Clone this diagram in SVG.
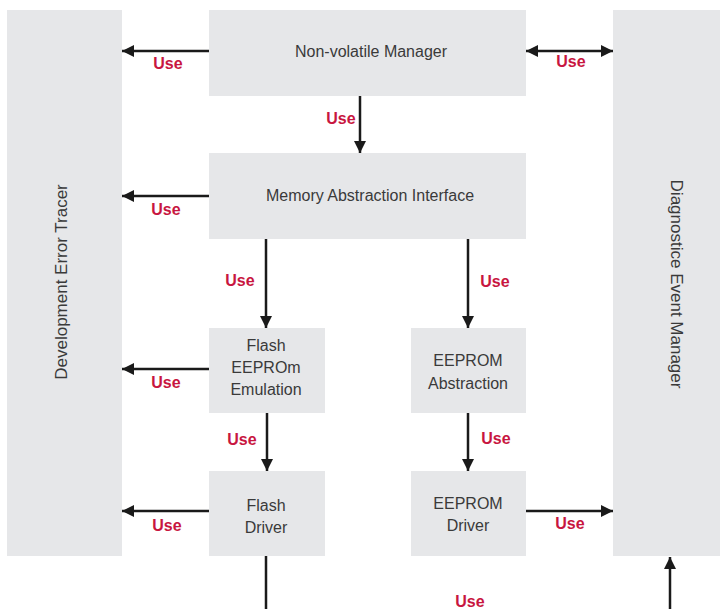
<svg xmlns="http://www.w3.org/2000/svg" width="720" height="609" viewBox="0 0 720 609">
<defs>
<marker id="ah" viewBox="0 0 12 12" refX="12" refY="6" markerWidth="12" markerHeight="12" markerUnits="userSpaceOnUse" orient="auto-start-reverse">
<path d="M0,0 L12,6 L0,12 z" fill="#1a1a1a"/>
</marker>
<style>
.box{fill:#e6e7e9}
.t{font-family:"Liberation Sans",Arial,sans-serif;font-size:16px;fill:#3a3a3a;text-anchor:middle}
.v{font-family:"Liberation Sans",Arial,sans-serif;font-size:17px;fill:#3a3a3a;text-anchor:middle}
.u{font-family:"Liberation Sans",Arial,sans-serif;font-size:16px;font-weight:bold;fill:#c8163f;text-anchor:middle}
.c{stroke:#1a1a1a;stroke-width:2.5;fill:none}
</style>
</defs>
<rect width="720" height="609" fill="#ffffff"/>
<g id="det">
<rect class="box" x="7" y="10" width="115" height="546"/>
<text class="v" transform="translate(67,282) rotate(-90)">Development Error Tracer</text>
</g>
<g id="dem">
<rect class="box" x="613" y="10" width="107" height="546"/>
<text class="v" transform="translate(671,284) rotate(90)">Diagnostice Event Manager</text>
</g>
<g id="nvm">
<rect class="box" x="209" y="10" width="317" height="86"/>
<text class="t" x="371" y="57">Non-volatile Manager</text>
</g>
<g id="mai">
<rect class="box" x="209" y="153" width="317" height="86"/>
<text class="t" x="370" y="201">Memory Abstraction Interface</text>
</g>
<g id="fee">
<rect class="box" x="209" y="328" width="116" height="85"/>
<text class="t" x="266" y="351">Flash</text>
<text class="t" x="266" y="373">EEPROm</text>
<text class="t" x="266" y="395">Emulation</text>
</g>
<g id="ea">
<rect class="box" x="411" y="328" width="115" height="85"/>
<text class="t" x="468" y="366">EEPROM</text>
<text class="t" x="468" y="389">Abstraction</text>
</g>
<g id="fd">
<rect class="box" x="209" y="471" width="116" height="85"/>
<text class="t" x="266" y="511">Flash</text>
<text class="t" x="266" y="533">Driver</text>
</g>
<g id="ed">
<rect class="box" x="411" y="471" width="115" height="85"/>
<text class="t" x="468" y="509">EEPROM</text>
<text class="t" x="468" y="531">Driver</text>
</g>
<g id="connectors">
<line class="c" x1="209" y1="51" x2="122" y2="51" marker-end="url(#ah)"/>
<text class="u" x="168" y="69">Use</text>
<line class="c" x1="526" y1="51" x2="613" y2="51" marker-start="url(#ah)" marker-end="url(#ah)"/>
<text class="u" x="571" y="67">Use</text>
<line class="c" x1="360" y1="96" x2="360" y2="153" marker-end="url(#ah)"/>
<text class="u" x="341" y="124">Use</text>
<line class="c" x1="209" y1="196" x2="122" y2="196" marker-end="url(#ah)"/>
<text class="u" x="166" y="215">Use</text>
<line class="c" x1="266" y1="239" x2="266" y2="328" marker-end="url(#ah)"/>
<text class="u" x="240" y="286">Use</text>
<line class="c" x1="468" y1="239" x2="468" y2="328" marker-end="url(#ah)"/>
<text class="u" x="495" y="287">Use</text>
<line class="c" x1="209" y1="369" x2="122" y2="369" marker-end="url(#ah)"/>
<text class="u" x="166" y="388">Use</text>
<line class="c" x1="267" y1="413" x2="267" y2="471" marker-end="url(#ah)"/>
<text class="u" x="242" y="445">Use</text>
<line class="c" x1="468" y1="413" x2="468" y2="471" marker-end="url(#ah)"/>
<text class="u" x="496" y="444">Use</text>
<line class="c" x1="209" y1="511" x2="122" y2="511" marker-end="url(#ah)"/>
<text class="u" x="167" y="531">Use</text>
<line class="c" x1="526" y1="511" x2="613" y2="511" marker-end="url(#ah)"/>
<text class="u" x="570" y="529">Use</text>
<line class="c" x1="266" y1="556" x2="266" y2="609"/>
<line class="c" x1="670" y1="609" x2="670" y2="557" marker-end="url(#ah)"/>
<text class="u" x="470" y="607">Use</text>
</g>
</svg>
